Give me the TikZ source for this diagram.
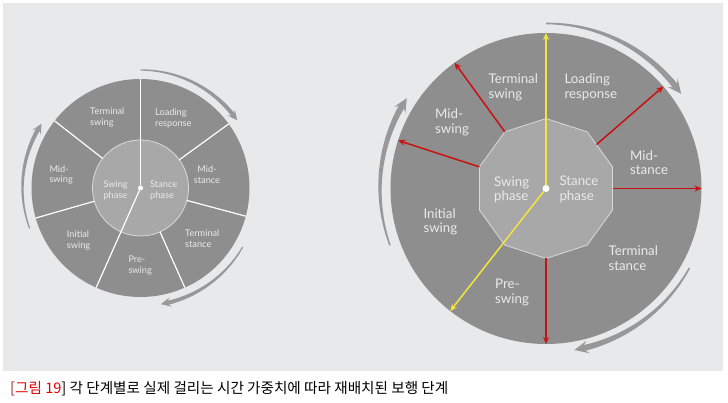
\documentclass[tikz,border=0pt]{standalone}
\usepackage{fontspec}
\setmainfont{Lato}
\newfontfamily\krfont{Noto Sans CJK KR}
\usetikzlibrary{arrows.meta}
\definecolor{bgpanel}{RGB}{232,233,235}
\definecolor{diskgray}{RGB}{142,142,142}
\definecolor{innergray}{RGB}{168,168,168}
\definecolor{innerline}{RGB}{218,218,218}
\definecolor{arcgray}{RGB}{152,152,152}
\definecolor{labelcol}{RGB}{234,234,234}
\definecolor{redarr}{RGB}{200,18,18}
\definecolor{yelarr}{RGB}{242,230,60}
\definecolor{capred}{RGB}{230,0,0}
\definecolor{capbr}{RGB}{150,40,40}
\tikzset{
  sepline/.style={draw=white, line width=1.2pt},
  lablarge/.style={text=labelcol, font=\fontsize{13.3}{14.4}\selectfont, align=left, anchor=west, inner sep=0pt},
  labsmall/.style={text=labelcol, font=\fontsize{9.2}{10.8}\selectfont, align=left, anchor=west, inner sep=0pt},
  redarrow/.style={draw=redarr, line width=1.5pt, -{Stealth[length=7pt,width=6pt]}},
  yelarrow/.style={draw=yelarr, line width=1.5pt, -{Stealth[length=7pt,width=6pt]}},
  whitedot/.style={circle, fill=white, inner sep=0pt, outer sep=0pt},
}
% tapered arc: #1 radius, #2 start angle, #3 tip angle, #4 tail width, #5 head-end width, #6 head length, #7 head width
\newcommand\taparc[7]{%
  \pgfmathsetmacro\tb{#3+#6/#1*57.2958}%
  \pgfmathsetmacro\tn{#3+0.55*#6/#1*57.2958}%
  \fill[arcgray] plot[domain=0:1, samples=40, smooth] ({#2+(\tn-#2)*\x}:{#1+(#4+(#5-#4)*\x)/2})
     -- plot[domain=0:1, samples=40, smooth] ({\tn+(#2-\tn)*\x}:{#1-(#5+(#4-#5)*\x)/2}) -- cycle;
  \fill[arcgray] (#3:#1) -- (\tb:{#1+#7/2}) -- (\tn:#1) -- (\tb:{#1-#7/2}) -- cycle;
}
\begin{document}
\begin{tikzpicture}[x=1pt,y=1pt]
\useasboundingbox (0,0) rectangle (728,403);
\fill[white] (0,0) rectangle (728,403);
\fill[bgpanel] (3,32) rectangle (723,400);

% ---------------- left diagram ----------------
\begin{scope}[shift={(140.5,215)}]
  \node[circle, fill=diskgray, minimum size=218pt, inner sep=0pt, outer sep=0pt] (ldisk) at (0,0) {};
  \node[circle, fill=innergray, draw=innerline, line width=0.8pt, minimum size=96pt, inner sep=0pt, outer sep=0pt] (lin) at (0,0) {};
  \foreach \a in {36,-15.5,-66.5,196,142} \draw[sepline] (lin.\a) -- (ldisk.\a);
  \node[whitedot, minimum size=5pt] (ldot) at (0,0) {};
  \draw[sepline] (ldot) -- (ldisk.90);
  \draw[sepline] (ldot) -- (ldisk.246);
  \taparc{118}{90}{35}{1.2}{4.2}{10}{9.5}
  \taparc{118}{200}{147}{1.2}{4.2}{10}{9.5}
  \taparc{118}{-30}{-80}{1.2}{4.2}{10}{9.5}
\end{scope}
\node[labsmall] (lts) at (90,285.5) {Terminal\\swing};
\node[labsmall] (llr) at (155,284.5) {Loading\\response};
\node[labsmall] (lms) at (49.3,228) {Mid-\\swing};
\node[labsmall, anchor=center, align=center] (lmst) at (207,228.7) {Mid-\\stance};
\node[labsmall] (lsw) at (103.3,212.5) {Swing\\phase};
\node[labsmall] (lst) at (150,212.5) {Stance\\phase};
\node[labsmall] (lis) at (66.7,162.2) {Initial\\swing};
\node[labsmall] (ltst) at (185,164) {Terminal\\stance};
\node[labsmall] (lps) at (128.3,137.7) {Pre-\\swing};

% ---------------- right diagram ----------------
\begin{scope}[shift={(546,214.5)}]
  \node[circle, fill=diskgray, minimum size=311pt, inner sep=0pt, outer sep=0pt] (rdisk) at (0,0) {};
  \filldraw[fill=innergray, draw=innerline, line width=0.8pt]
     (90:70) \foreach \k in {1,...,9} { -- ({90+36*\k}:70) } -- cycle;
  \coordinate (d41) at (41:66.83);
  \coordinate (d0) at (0:66.57);
  \coordinate (dm90) at (-90:70);
  \coordinate (d162) at (162:70);
  \coordinate (d126) at (126:70);
  \draw[redarrow] (d41) -- (rdisk.41);
  \draw[redarrow] (d0) -- (rdisk.0);
  \draw[redarrow] (dm90) -- (rdisk.-90);
  \draw[redarrow] (d162) -- (rdisk.162);
  \draw[redarrow] (d126) -- (rdisk.126);
  \node[whitedot, minimum size=7pt] (rdot) at (0,0) {};
  \draw[yelarrow] (rdot) -- (rdisk.90);
  \draw[yelarrow] (rdot) -- (rdisk.232.5);
  \taparc{165}{90}{35}{1.5}{6}{14}{13}
  \taparc{166}{200}{147}{1.5}{6}{14}{13}
  \taparc{164}{-29}{-80}{1.5}{6}{14}{13}
\end{scope}
\node[lablarge] (rts) at (488.3,315.8) {Terminal\\swing};
\node[lablarge] (rlr) at (564.3,315.8) {Loading\\response};
\node[lablarge] (rms) at (435,280.8) {Mid-\\swing};
\node[lablarge] (rmst) at (630,240.5) {Mid-\\stance};
\node[lablarge] (rsw) at (494,213.5) {Swing\\phase};
\node[lablarge] (rst) at (559.3,213.5) {Stance\\phase};
\node[lablarge] (ris) at (423.3,181.3) {Initial\\swing};
\node[lablarge] (rtst) at (608.3,144.7) {Terminal\\stance};
\node[lablarge] (rps) at (495,110.5) {Pre-\\swing};

% ---------------- caption ----------------
\node[anchor=base west, inner sep=0pt, font=\krfont\fontsize{14.6}{16}\selectfont] (cap) at (10,9.5)
  {\textcolor{capbr}{[}\textcolor{capred}{그림 19}] 각 단계별로 실제 걸리는 시간 가중치에 따라 재배치된 보행 단계};
\end{tikzpicture}
\end{document}
